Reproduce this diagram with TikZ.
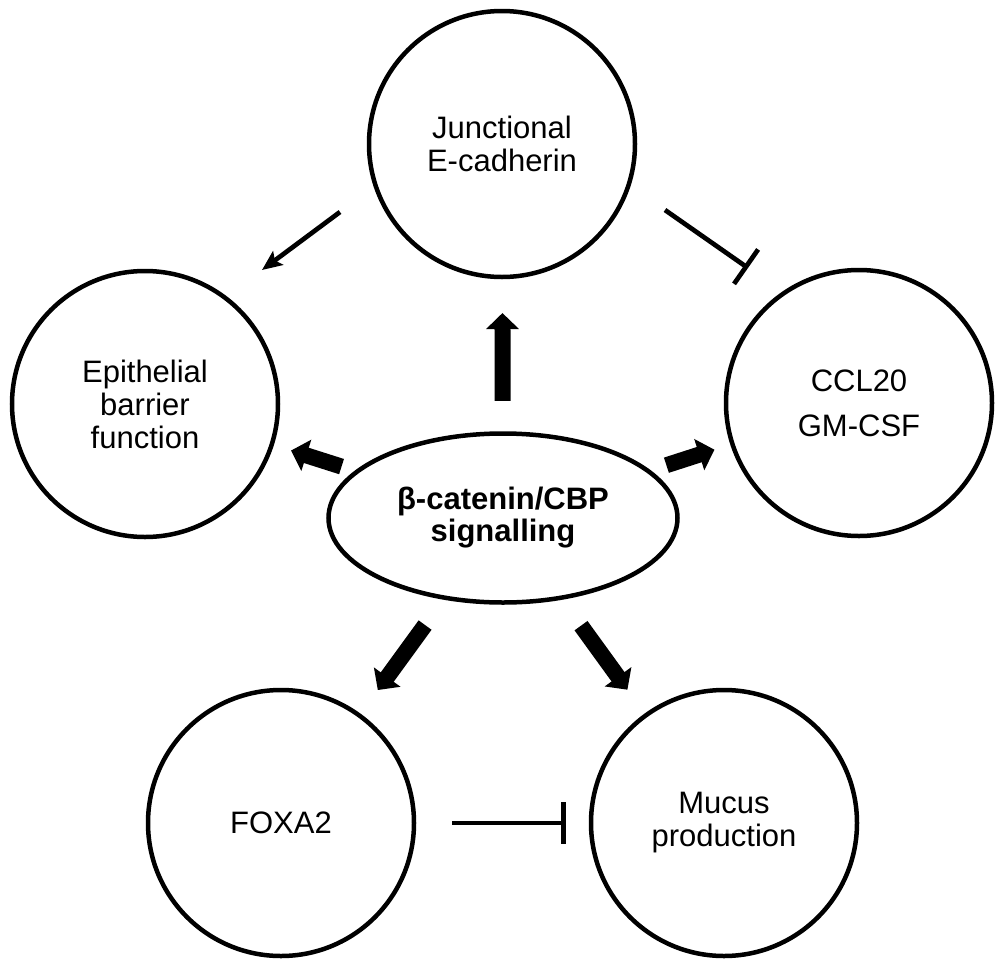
\documentclass[tikz,border=0pt]{standalone}
\usepackage{fontspec}
\setmainfont{Liberation Sans}
\usetikzlibrary{arrows.meta,calc,shapes.geometric}
\begin{document}
\begin{tikzpicture}[x=1pt,y=-1pt,
  circ/.style={circle,draw,line width=4.5pt,minimum size=266pt,inner sep=0pt,align=center,font=\fontsize{31}{33}\selectfont},
  sigbox/.style={ellipse,draw,line width=4.5pt,minimum width=349pt,minimum height=169pt,inner sep=0pt,align=center,font=\bfseries\fontsize{31}{32}\selectfont},
  bigarrow/.style={line width=16pt,-{Triangle[length=16pt,width=32pt]}},
  thinarrow/.style={line width=4.7pt,-{Stealth[length=20pt,width=17pt,inset=4pt]}},
  inhib/.style={line width=4.7pt,-{Bar[width=42pt]}}]
\useasboundingbox (0,0) rectangle (997,959);
\node[circ] (junc) at (502,144) {Junctional\\E-cadherin};
\node[circ] (epi) at (145,404) {Epithelial\\barrier\\function};
\node[circ] (ccl) at (859,403) {CCL20\\[12pt]GM-CSF};
\node[circ] (foxa) at (281,823) {FOXA2};
\node[circ] (muc) at (724,823) {Mucus\\production};
\node[sigbox] (sig) at (503,518) {β-catenin/CBP\\signalling};
% thick arrows from signalling
\draw[bigarrow] ($(sig)!0.313!(junc)$) -- ($(sig)!0.548!(junc)$);
\draw[bigarrow] ($(sig)!0.451!(epi)$) -- ($(sig)!0.592!(epi)$);
\draw[bigarrow] ($(sig)!0.459!(ccl)$) -- ($(sig)!0.594!(ccl)$);
\draw[bigarrow] ($(sig)!0.351!(foxa)$) -- ($(sig)!0.564!(foxa)$);
\draw[bigarrow] ($(sig)!0.353!(muc)$) -- ($(sig)!0.563!(muc)$);
% thin connectors
\coordinate (je1) at (340,212);
\coordinate (je2) at (262,270);
\draw[thinarrow] (je1) -- (je2);
\coordinate (jc1) at (665,210);
\coordinate (jc2) at (748,268);
\draw[inhib] (jc1) -- (jc2);
\coordinate (fm1) at (452,823);
\coordinate (fm2) at (566,823);
\draw[inhib] (fm1) -- (fm2);
\end{tikzpicture}
\end{document}
